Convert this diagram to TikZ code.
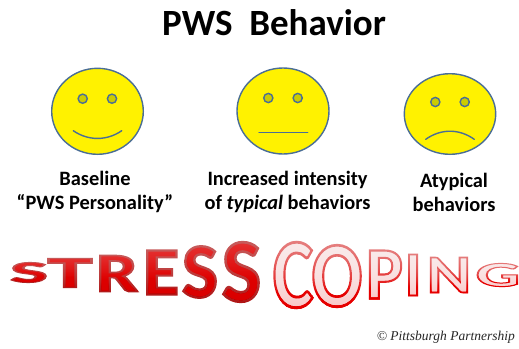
\documentclass[tikz,border=0pt]{standalone}
\usepackage{fontspec}
\setmainfont{Carlito}
\newfontfamily\copyfont{Liberation Serif}
\tikzset{
  x=1pt,y=-1pt,
  facebody/.style={draw=faceline,fill=yellow,line width=1.4pt},
  eyeball/.style={draw=faceline,fill=eyeyellow,line width=1.4pt},
  mouthline/.style={draw=faceline,line width=1.4pt,line cap=round},
  caption/.style={font=\bfseries\fontsize{20.4}{24}\selectfont,align=center,inner sep=0pt,text=black},
  letterbox/.style={inner sep=0pt,outer sep=0pt,anchor=center}
}
\definecolor{faceline}{HTML}{4A6E96}
\definecolor{eyeyellow}{HTML}{CCCC00}
\definecolor{stressfill}{HTML}{E43232}
\definecolor{copefill}{HTML}{F9EAEA}
\definecolor{copeend}{rgb}{1,0.32,0.32}
% #1 name, #2 letter, #3 x0, #4 y0, #5 x1, #6 y1, #7 fill colour, #8 stroke literal, #9 shade end colour
\newcommand{\artletter}[9]{%
  \pgfmathsetmacro{\artw}{(#5-#3)*1.06}\pgfmathsetmacro{\arth}{#6-#4-1}%
  \node[letterbox] (#1) at ({(#3+#5)/2},{(#4+#6)/2}) {\color{#7}\special{pdf:literal direct 2 Tr #8}\resizebox{\artw pt}{\arth pt}{\fontsize{60}{60}\selectfont\bfseries #2}\special{pdf:literal direct 0 Tr}};%
  \begin{scope}[blend mode=color burn]
    \shade[top color=white,bottom color=#9] (#3-1,#4-3) rectangle (#5+1,#6+3);
  \end{scope}%
}
\begin{document}
\begin{tikzpicture}
\useasboundingbox (0,0) rectangle (519,348);
\fill[white] (0,0) rectangle (519,348);
\node[inner sep=0pt,font=\bfseries\fontsize{37}{40}\selectfont] (title) at (274,23) {PWS\ \ Behavior};
% faces
\draw[facebody] (97.5,111.3) ellipse [x radius=45.8,y radius=43];
\draw[eyeball] (82.7,98.7) circle (4.6);
\draw[eyeball] (112,98.7) circle (4.6);
\draw[mouthline] (73.3,130.7) .. controls (88,141) and (107,141) .. (121.7,130.7);
\draw[facebody] (283,111) ellipse [x radius=46,y radius=43];
\draw[eyeball] (268.3,98) circle (4.6);
\draw[eyeball] (297.7,98) circle (4.6);
\draw[mouthline] (259,132.7) -- (307.7,132.7);
\draw[facebody] (450,114) ellipse [x radius=45.7,y radius=40.3];
\draw[eyeball] (435.3,102) circle (4.6);
\draw[eyeball] (464.7,102) circle (4.6);
\draw[mouthline] (425.7,139.3) .. controls (441,128.5) and (459,128.5) .. (474.3,139.3);
% captions
\node[caption] (base) at (95,192) {Baseline\\“PWS Personality”};
\node[caption] (inten) at (287.5,192) {Increased intensity\\of \textit{typical} behaviors};
\node[caption] (atyp) at (454,192) {Atypical\\behaviors};
% word art
\def\stressline{1.8 w 0.78 0.36 0.36 RG}
\def\copeline{1.7 w 0.9 0.5 0.5 RG}
\artletter{sa}{S}{11}{262}{47}{283}{stressfill}{\stressline}{black!32}
\artletter{sb}{T}{49}{258}{91}{288}{stressfill}{\stressline}{black!32}
\artletter{sc}{R}{97}{255}{137}{292}{stressfill}{\stressline}{black!32}
\artletter{sd}{E}{144}{250}{178}{295}{stressfill}{\stressline}{black!32}
\artletter{se}{S}{183}{246}{217}{298}{stressfill}{\stressline}{black!32}
\artletter{sf}{S}{223}{242}{260}{302}{stressfill}{\stressline}{black!32}
\artletter{ca}{C}{274}{242}{312}{308}{copefill}{\copeline}{copeend}
\artletter{cb}{O}{313}{245}{361}{307}{copefill}{\copeline}{copeend}
\artletter{cc}{P}{367}{250}{402}{299}{copefill}{\copeline}{copeend}
\artletter{cd}{I}{405}{254}{421}{296}{copefill}{\copeline}{copeend}
\artletter{ce}{N}{428}{257}{470}{293}{copefill}{\copeline}{copeend}
\artletter{cf}{G}{477}{263}{519}{287}{copefill}{\copeline}{copeend}
\node[inner sep=0pt,anchor=east,font=\copyfont\itshape\fontsize{13.5}{14}\selectfont,text=black!85] (copy) at (515,337) {© Pittsburgh Partnership};
\end{tikzpicture}
\end{document}
